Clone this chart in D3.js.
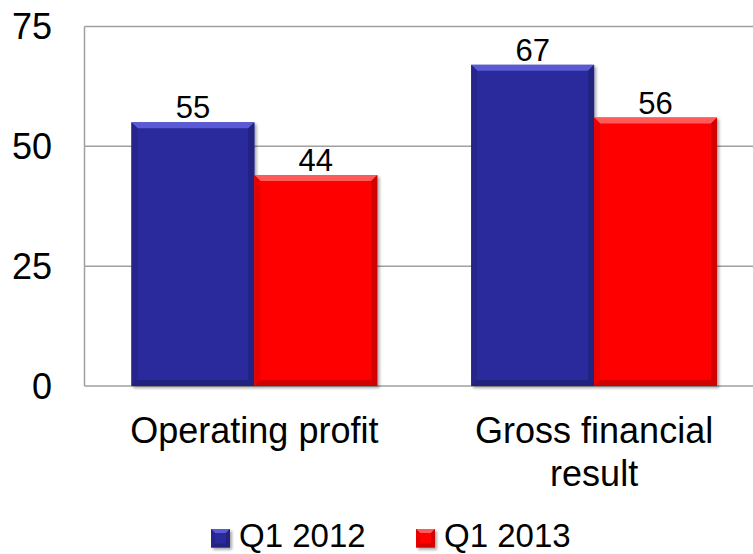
<!DOCTYPE html>
<html>
<head>
<meta charset="utf-8">
<script src="https://cdn.jsdelivr.net/npm/d3@7"></script>
<style>
  html, body { margin: 0; padding: 0; background: #fff; }
  svg { display: block; font-family: "Liberation Sans", Arial, sans-serif; }
</style>
</head>
<body>
<svg id="chart" width="753" height="554"></svg>
<script>
const categories = ["Operating profit", "Gross financial result"];
const categoryLines = [["Operating profit"], ["Gross financial", "result"]];
const seriesNames = ["Q1 2012", "Q1 2013"];
const q1_2012 = [55, 67];
const q1_2013 = [44, 56];
const yTicks = [0, 25, 50, 75];
const seriesColors = ["#2B2B9C", "#FF0404"];
const bevelLight = ["#5A5AD6", "#FF5A5A"];
const bevelDark = ["#1E1E78", "#C80000"];
const bevelSide = ["#25258A", "#E80000"];

const svg = d3.select("#chart");
const plot = { left: 84.5, top: 26.5, right: 764, bottom: 386 };

const y = d3.scaleLinear().domain([0, 75]).range([plot.bottom, plot.top]);
const x0 = d3.scaleBand().domain(categories).range([plot.left, plot.right]).padding(0);
const x1 = d3.scaleBand().domain(seriesNames).range([0, x0.bandwidth()]).paddingInner(0).paddingOuter(0.382);

const defs = svg.append("defs");
const f = defs.append("filter").attr("id", "shadow").attr("x", "-10%").attr("y", "-10%").attr("width", "130%").attr("height", "130%");
f.append("feGaussianBlur").attr("in", "SourceAlpha").attr("stdDeviation", 1.5).attr("result", "b");
f.append("feOffset").attr("in", "b").attr("dx", 2).attr("dy", 2).attr("result", "o");
f.append("feComponentTransfer").attr("in", "o").attr("result", "oa")
  .append("feFuncA").attr("type", "linear").attr("slope", 0.35);
const m = f.append("feMerge");
m.append("feMergeNode").attr("in", "oa");
m.append("feMergeNode").attr("in", "SourceGraphic");

// gridlines
const gridColor = "#A0A0A0";
svg.append("g").selectAll("line").data(yTicks).join("line")
  .attr("x1", plot.left).attr("x2", plot.right)
  .attr("y1", d => y(d)).attr("y2", d => y(d))
  .attr("stroke", gridColor).attr("stroke-width", 1.5);
svg.append("line")
  .attr("x1", plot.left).attr("x2", plot.left)
  .attr("y1", plot.top).attr("y2", plot.bottom)
  .attr("stroke", gridColor).attr("stroke-width", 1.5);

// y axis labels
svg.append("g").selectAll("text").data(yTicks).join("text")
  .attr("x", 52).attr("y", d => y(d))
  .attr("dy", "0.35em")
  .attr("text-anchor", "end")
  .attr("font-size", 36).attr("fill", "#000")
  .text(d => d);

function bevelBar(g, x, yTop, w, h, si, b) {
  const grp = g.append("g").attr("filter", "url(#shadow)");
  grp.append("rect").attr("x", x).attr("y", yTop).attr("width", w).attr("height", h).attr("fill", seriesColors[si]);
  const x2 = x + w, y2 = yTop + h;
  const bb = Math.min(b, h / 2);
  grp.append("polygon").attr("points", [[x, yTop], [x2, yTop], [x2 - bb, yTop + bb], [x + bb, yTop + bb]].join(" "))
    .attr("fill", bevelLight[si]);
  grp.append("polygon").attr("points", [[x, yTop], [x + bb, yTop + bb], [x + bb, y2 - bb], [x, y2]].join(" "))
    .attr("fill", bevelSide[si]);
  grp.append("polygon").attr("points", [[x2, yTop], [x2, y2], [x2 - bb, y2 - bb], [x2 - bb, yTop + bb]].join(" "))
    .attr("fill", bevelDark[si]).attr("opacity", 0.8);
  grp.append("polygon").attr("points", [[x, y2], [x2, y2], [x2 - bb, y2 - bb], [x + bb, y2 - bb]].join(" "))
    .attr("fill", bevelDark[si]).attr("opacity", 0.8);
}

const seriesData = [q1_2012, q1_2013];
const barsG = svg.append("g");
categories.forEach((c, ci) => {
  seriesNames.forEach((s, si) => {
    const v = seriesData[si][ci];
    const bx = x0(c) + x1(s);
    bevelBar(barsG, bx, y(v), x1.bandwidth(), y(0) - y(v), si, 6);
  });
});

// value labels
categories.forEach((c, ci) => {
  seriesNames.forEach((s, si) => {
    const v = seriesData[si][ci];
    svg.append("text")
      .attr("x", x0(c) + x1(s) + x1.bandwidth() / 2)
      .attr("y", y(v) - 4)
      .attr("text-anchor", "middle")
      .attr("font-size", 31).attr("fill", "#000")
      .text(v);
  });
});

// category labels
categories.forEach((c, ci) => {
  const cx = x0(c) + x0.bandwidth() / 2;
  const t = svg.append("text")
    .attr("x", cx)
    .attr("y", 443)
    .attr("text-anchor", "middle")
    .attr("font-size", 36).attr("fill", "#000");
  categoryLines[ci].forEach((line, li) => {
    t.append("tspan").attr("x", cx).attr("dy", li === 0 ? 0 : 43).text(line);
  });
});

// legend
const legendItems = [{ name: seriesNames[0], x: 211 }, { name: seriesNames[1], x: 416 }];
const lg = svg.append("g");
legendItems.forEach((it, i) => {
  bevelBar(lg, it.x, 529, 19, 18.5, i, 4);
  lg.append("text").attr("x", it.x + 28).attr("y", 546.5)
    .attr("font-size", 33).attr("fill", "#000").text(it.name);
});
</script>
</body>
</html>
